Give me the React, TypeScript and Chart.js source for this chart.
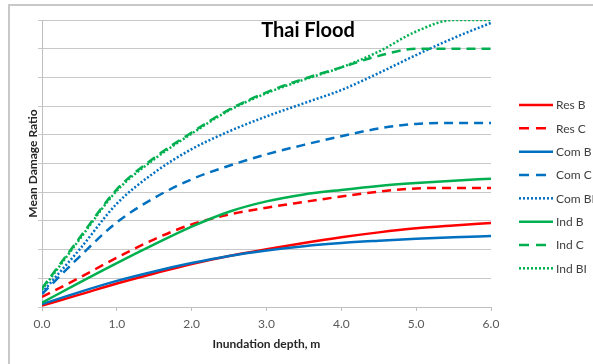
import { useEffect, useRef } from "react";
import { Chart, registerables } from "chart.js";

Chart.register(...registerables);

const chartTitle = "Thai Flood";
const xAxisTitle = "Inundation depth, m";
const yAxisTitle = "Mean Damage Ratio";

const depths = [0, 0.5, 1, 1.5, 2, 2.5, 3, 3.5, 4, 4.5, 5, 5.5, 6];
const seriesNames = ["Res B", "Res C", "Com B", "Com C", "Com BI", "Ind B", "Ind C", "Ind BI"];

const resB = [0.005, 0.043, 0.082, 0.117, 0.15, 0.178, 0.201, 0.223, 0.243, 0.26, 0.274, 0.284, 0.293];
const resC = [0.035, 0.102, 0.172, 0.236, 0.288, 0.322, 0.346, 0.366, 0.385, 0.402, 0.413, 0.415, 0.415];
const comB = [0.01, 0.052, 0.091, 0.124, 0.153, 0.178, 0.197, 0.212, 0.223, 0.231, 0.238, 0.243, 0.247];
const comC = [0.045, 0.175, 0.295, 0.38, 0.445, 0.492, 0.532, 0.565, 0.595, 0.622, 0.638, 0.641, 0.641];
const comBI = [0.05, 0.2, 0.36, 0.468, 0.55, 0.612, 0.664, 0.71, 0.756, 0.815, 0.878, 0.937, 0.99];
const indB = [0.015, 0.085, 0.153, 0.218, 0.28, 0.332, 0.368, 0.392, 0.408, 0.422, 0.432, 0.44, 0.447];
const indC = [0.065, 0.24, 0.41, 0.52, 0.608, 0.688, 0.748, 0.795, 0.835, 0.875, 0.9, 0.9, 0.9];
const indBI = [0.06, 0.235, 0.405, 0.515, 0.604, 0.685, 0.745, 0.792, 0.835, 0.89, 0.96, 1.0, 1.0];

const FONT = "Lato, 'Open Sans', 'DejaVu Sans', sans-serif";
const RED = "#ff0000";
const BLUE = "#0070c0";
const GREEN = "#00b050";
const SOLID: number[] = [];
const DASHED = [9, 6];
const DOTTED = [2, 2];

export default function App() {
  const ref = useRef<HTMLCanvasElement>(null);

  useEffect(() => {
    if (!ref.current) return;
    const values = [resB, resC, comB, comC, comBI, indB, indC, indBI];
    const colors = [RED, RED, BLUE, BLUE, BLUE, GREEN, GREEN, GREEN];
    const dashes = [SOLID, DASHED, SOLID, DASHED, DOTTED, SOLID, DASHED, DOTTED];

    const datasets = values.map((vals, i) => ({
      label: seriesNames[i],
      data: depths.map((x, j) => ({ x, y: vals[j] })),
      borderColor: colors[i],
      backgroundColor: colors[i],
      borderDash: dashes[i],
      borderWidth: 2.5,
      pointRadius: 0,
      pointHoverRadius: 0,
      fill: false,
      cubicInterpolationMode: "monotone" as const,
      order: values.length - i,
    }));

    const decor = {
      id: "decor",
      beforeDraw(chart: any) {
        const ctx = chart.ctx;
        ctx.save();
        ctx.fillStyle = "#ffffff";
        ctx.fillRect(0, 0, chart.width, chart.height);
        ctx.strokeStyle = "#c8c8c8";
        ctx.lineWidth = 2;
        ctx.beginPath();
        ctx.moveTo(9, chart.height);
        ctx.lineTo(9, 5);
        ctx.lineTo(chart.width, 5);
        ctx.stroke();
        ctx.restore();
      },
      afterDraw(chart: any) {
        const ctx = chart.ctx;
        const area = chart.chartArea;
        ctx.save();
        ctx.fillStyle = "#000000";
        ctx.font = `bold 20px ${FONT}`;
        ctx.textAlign = "center";
        ctx.textBaseline = "alphabetic";
        ctx.fillText(chartTitle, 308, area.top + 17);
        ctx.font = `12px ${FONT}`;
        ctx.textAlign = "left";
        ctx.textBaseline = "middle";
        chart.data.datasets.forEach((ds: any, i: number) => {
          const y = 105 + i * 23.33;
          const x0 = area.right + 28;
          ctx.strokeStyle = ds.borderColor;
          ctx.lineWidth = 2.5;
          ctx.setLineDash(ds.borderDash === DASHED ? [10, 7] : ds.borderDash === DOTTED ? [2, 2] : []);
          ctx.beginPath();
          ctx.moveTo(x0, y);
          ctx.lineTo(x0 + 34, y);
          ctx.stroke();
          ctx.fillStyle = "#404040";
          ctx.fillText(ds.label, x0 + 37, y + 0.5);
        });
        ctx.restore();
      },
    };

    const chart = new Chart(ref.current, {
      type: "line",
      data: { datasets },
      plugins: [decor],
      options: {
        animation: false,
        responsive: false,
        devicePixelRatio: 1,
        layout: { padding: { top: 20, right: 102, bottom: 0, left: 0 } },
        plugins: {
          legend: { display: false },
          title: { display: false },
          tooltip: { enabled: false },
        },
        scales: {
          x: {
            type: "linear",
            min: 0,
            max: 6,
            ticks: {
              stepSize: 1,
              callback: (v: any) => Number(v).toFixed(1),
              font: { family: FONT, size: 12 },
              color: "#595959",
              padding: 6,
              maxRotation: 0,
            },
            grid: { drawOnChartArea: false, drawTicks: true, tickLength: 4, color: "#bfbfbf" },
            border: { display: true, color: "#bfbfbf" },
            title: {
              display: true,
              text: xAxisTitle,
              font: { family: FONT, size: 12, weight: "bold" },
              color: "#262626",
              padding: { top: 0, bottom: 13 },
            },
            afterFit: (s: any) => {
              s.height = 57;
            },
          },
          y: {
            min: 0,
            max: 1,
            ticks: { display: false, stepSize: 0.1 },
            grid: { color: "#c8c8c8", lineWidth: 1, drawTicks: true, tickLength: 4 },
            border: { display: true, color: "#bfbfbf" },
            title: {
              display: true,
              text: yAxisTitle,
              font: { family: FONT, size: 12, weight: "bold" },
              color: "#262626",
              padding: { top: 26, bottom: 0 },
            },
            afterFit: (s: any) => {
              s.width = 42;
            },
          },
        },
      } as any,
    });
    return () => chart.destroy();
  }, []);

  return (
    <div style={{ position: "fixed", left: 0, top: 0, width: 593, height: 364, background: "#fff" }}>
      <canvas ref={ref} width={593} height={364} style={{ width: 593, height: 364, display: "block" }} />
    </div>
  );
}
